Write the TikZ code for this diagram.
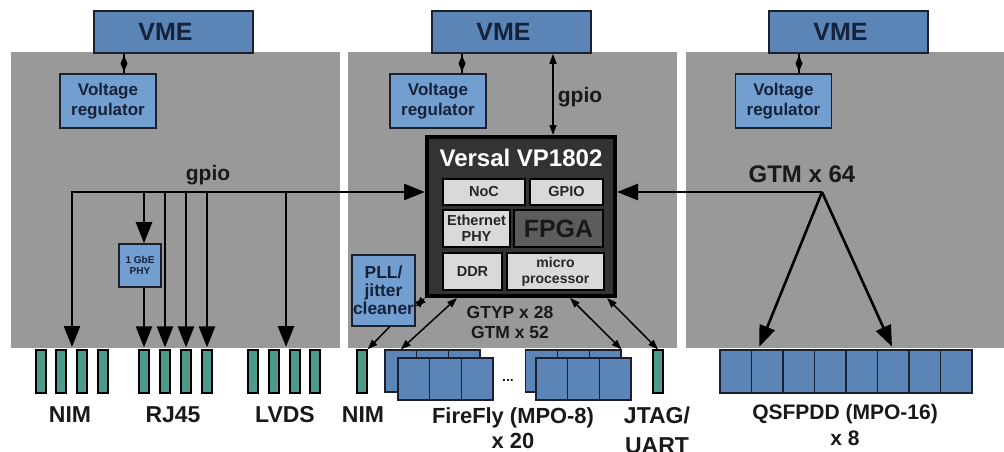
\documentclass[tikz,border=0pt]{standalone}
\usepackage{fontspec}
\setmainfont{Liberation Sans}
\usetikzlibrary{arrows.meta,decorations.markings}
\definecolor{PanelGrey}{HTML}{999999}
\definecolor{VmeBlue}{HTML}{5A85B6}
\definecolor{RegBlue}{HTML}{729FCF}
\definecolor{ConnGreen}{HTML}{4E9A8A}
\definecolor{ChipDark}{HTML}{333333}
\definecolor{CellGrey}{HTML}{D9D9D9}
\definecolor{FpgaGrey}{HTML}{5C5C5C}
\definecolor{BoxEdge}{HTML}{1B1F2E}
\definecolor{BoxText}{HTML}{16213A}
\newcommand{\lblfont}[2]{\fontsize{#1}{#2}\selectfont\bfseries}

\begin{document}
\begin{tikzpicture}[x=1pt,y=-1pt,
  panel/.style={fill=PanelGrey},
  vmebox/.style={draw=BoxEdge,line width=1.6pt,fill=VmeBlue,text=BoxText,minimum width=159pt,minimum height=42pt,inner sep=0pt,font=\lblfont{25}{28}},
  regbox/.style={draw=BoxEdge,line width=1.6pt,fill=RegBlue,text=BoxText,minimum width=96pt,minimum height=54pt,inner sep=0pt,align=center,font=\lblfont{17}{20}},
  conn/.style={draw=black,line width=1.2pt,fill=ConnGreen,minimum width=10pt,minimum height=43pt,inner sep=0pt},
  fibox/.style={draw=BoxEdge,line width=1.2pt,fill=VmeBlue,minimum width=31.7pt,minimum height=42pt,inner sep=0pt},
  cell/.style={draw=black,line width=1.2pt,fill=CellGrey,text=black!85,inner sep=0pt,align=center,font=\lblfont{14.5}{16}},
  tag/.style={text=black!90,inner sep=0pt,align=center,anchor=base},
  bigarrow/.style={line width=2.6pt,-{Triangle[length=21pt,width=16pt]}},
  duplex/.style={line width=1.5pt,{Triangle[length=10pt,width=7pt]}-{Triangle[length=10pt,width=7pt]}},
  simplex/.style={line width=1.5pt,-{Triangle[length=10pt,width=7pt]}},
  reglink/.style={line width=1.2pt,postaction={decorate},decoration={markings,mark=at position 0.5 with {\fill (-8pt,0) -- (0,3.5pt) -- (8pt,0) -- (0,-3.5pt) -- cycle;}}}
]
\path[use as bounding box] (0,0) rectangle (1004,451);
% boards
\fill[panel] (11,52) rectangle (340,348);
\fill[panel] (348,52) rectangle (677,348);
\fill[panel] (686,52) rectangle (1004,348);

% VME and regulators
\node[vmebox] (vmeL) at (173.5,32) {\hspace*{-16pt}VME};
\node[vmebox] (vmeM) at (511.5,32) {\hspace*{-16pt}VME};
\node[vmebox] (vmeR) at (848.5,32) {\hspace*{-16pt}VME};
\node[regbox] (regL) at (108,101) {Voltage\\regulator};
\node[regbox] (regM) at (438,101) {Voltage\\regulator};
\node[regbox] (regR) at (783.5,101) {Voltage\\regulator};
\draw[reglink] ([xshift=16pt]regL.north) -- ([xshift=16pt]regL.north |- vmeL.south);
\draw[reglink] ([xshift=24pt]regM.north) -- ([xshift=24pt]regM.north |- vmeM.south);
\draw[reglink] ([xshift=15.5pt]regR.north) -- ([xshift=15.5pt]regR.north |- vmeR.south);

% Versal
\node[draw=black,line width=4pt,fill=ChipDark,minimum width=188pt,minimum height=159pt] (versal) at (521,216.5) {};
\node[text=white,font=\lblfont{24}{26}] (versaltitle) at (521,158) {Versal VP1802};
\node[cell,minimum width=82pt,minimum height=26pt] (noc) at (484,192) {NoC};
\node[cell,minimum width=73pt,minimum height=26pt] (gpiocell) at (566.5,192) {GPIO};
\node[cell,minimum width=67pt,minimum height=37pt] (eth) at (476.5,228.5) {Ethernet\\PHY};
\node[cell,fill=FpgaGrey,text=black!90,minimum width=89pt,minimum height=37pt,font=\lblfont{25}{28}] (fpga) at (558.5,228.5) {FPGA};
\node[cell,minimum width=59pt,minimum height=37pt] (ddr) at (472.5,271.5) {DDR};
\node[cell,minimum width=97pt,minimum height=37pt,font=\lblfont{14}{16}] (cpu) at (555.5,271.5) {micro\\processor};
\draw[duplex] ([xshift=32pt]versal.north) -- ([xshift=32pt]versal.north |- vmeM.south);
\node[tag,font=\lblfont{21}{24}] (gpioM) at (580,102) {gpio};

% front panel connectors
\foreach \x [count=\k] in {41,61,82,103} \node[conn] (nim\k) at (\x,371.5) {};
\foreach \x [count=\k] in {144,165,186,207} \node[conn] (rj\k) at (\x,371.5) {};
\foreach \x [count=\k] in {253,274,295,315} \node[conn] (lvds\k) at (\x,371.5) {};
\node[conn] (nimM) at (362,371.5) {};
\node[conn] (jtag) at (658,371.5) {};

% left board gpio bus
\coordinate (busL) at (72,192);
\coordinate (nimtap) at (72,347);
\coordinate (lvdstap) at (286,347);
\node[regbox,minimum width=42pt,minimum height=43pt,font=\lblfont{10}{11}] (phy) at (140,265.5) {1 GbE\\PHY};
\draw[bigarrow,shorten <=-1.3pt] (busL) -- (busL -| versal.west);
\draw[bigarrow] (busL) -- (nimtap);
\draw[bigarrow] ([xshift=4pt]phy.north |- busL) -- ([xshift=4pt]phy.north);
\draw[bigarrow,shorten >=2pt] ([xshift=4pt]phy.south) -- (rj1.north);
\foreach \k in {2,3,4} \draw[bigarrow,shorten >=2pt] (rj\k.north |- busL) -- (rj\k.north);
\draw[bigarrow] (lvdstap |- busL) -- (lvdstap);
\node[tag,font=\lblfont{21}{24}] (gpioL) at (208,180) {gpio};

% FireFly stacks
\foreach \i in {0,1,2} {
  \node[fibox] (ffLb\i) at (400.8+31.7*\i,371) {};
  \node[fibox] (ffRb\i) at (541.7+31.7*\i,371) {};
}
\foreach \i in {0,1,2} {
  \node[fibox] (ffLf\i) at (413.8+31.7*\i,379) {};
  \node[fibox] (ffRf\i) at (551.8+31.7*\i,379) {};
}
\node[tag,font=\lblfont{14}{14}] (dots) at (508,381) {...};

% PLL and transceivers
\node[regbox,minimum width=63pt,minimum height=71pt,font=\lblfont{17.4}{18}] (pll) at (383.5,290.5) {PLL/\\jitter\\cleaner};
\draw[duplex] ([yshift=-16pt]pll.east) -- (versal.south west);
\draw[simplex] ([xshift=6pt]pll.south) -- (nimM.north east);
\draw[duplex] ([xshift=-64pt]versal.south) -- (ffLb0.north);
\draw[duplex] ([xshift=49pt]versal.south) -- (ffRb2.north east);
\draw[duplex] ([xshift=86pt]versal.south) -- (jtag.north);
\node[tag,font=\lblfont{17.5}{20}] (gtyp) at (510,338) {GTYP x 28\\GTM x 52};

% right board
\coordinate (fork) at (822,192);
\foreach \i in {0,...,7} \node[fibox,minimum width=31.5pt,minimum height=43pt] (qsfp\i) at (735.75+31.5*\i,371.5) {};
\draw[bigarrow] (fork) -- (fork -| versal.east);
\draw[bigarrow,shorten >=3pt] (fork) -- ([xshift=-9pt]qsfp1.north);
\draw[bigarrow,shorten >=3pt] (fork) -- (qsfp5.north);
\node[tag,font=\lblfont{24}{26}] (gtm) at (802,182) {GTM x 64};

% labels
\node[tag,font=\lblfont{23}{26}] (nimlbl) at (70,422) {NIM};
\node[tag,font=\lblfont{23}{26}] (rjlbl) at (173,422) {RJ45};
\node[tag,font=\lblfont{23}{26}] (lvdslbl) at (285,422) {LVDS};
\node[tag,font=\lblfont{23}{26}] (nimMlbl) at (363,422) {NIM};
\node[tag,font=\lblfont{21.9}{25}] (fflbl) at (513,448) {FireFly (MPO-8)\\x 20};
\node[tag,font=\lblfont{23}{30}] (jtaglbl) at (657,453) {JTAG/\\UART};
\node[tag,font=\lblfont{21}{26}] (qsfplbl) at (845,445) {QSFPDD (MPO-16)\\x 8};
\end{tikzpicture}
\end{document}
